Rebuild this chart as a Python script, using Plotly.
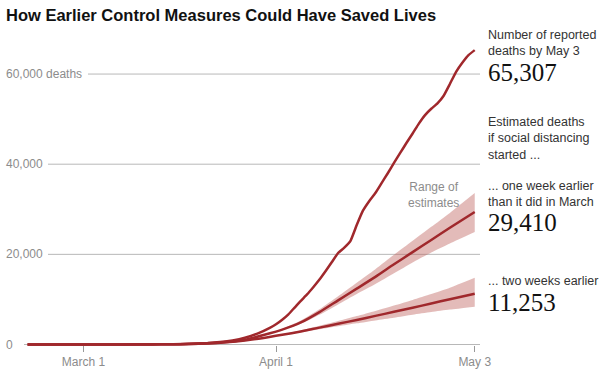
import datetime as dt
import plotly.graph_objects as go

# ---------------- data ----------------
reported_dates = ["2020-02-21", "2020-02-29", "2020-03-05", "2020-03-10", "2020-03-14",
                  "2020-03-17", "2020-03-19", "2020-03-21", "2020-03-23", "2020-03-25",
                  "2020-03-27", "2020-03-29", "2020-03-31", "2020-04-01", "2020-04-02",
                  "2020-04-03", "2020-04-04", "2020-04-05", "2020-04-06", "2020-04-07",
                  "2020-04-08", "2020-04-09", "2020-04-10", "2020-04-11", "2020-04-12",
                  "2020-04-13", "2020-04-14", "2020-04-15", "2020-04-16", "2020-04-17",
                  "2020-04-18", "2020-04-19", "2020-04-20", "2020-04-21", "2020-04-22",
                  "2020-04-23", "2020-04-24", "2020-04-25", "2020-04-26", "2020-04-27",
                  "2020-04-28", "2020-04-29", "2020-04-30", "2020-05-01", "2020-05-02",
                  "2020-05-03"]
reported_deaths = [0, 1, 12, 30, 60,
                   110, 200, 320, 550, 900,
                   1500, 2400, 3700, 4500, 5500,
                   6700, 8200, 9700, 11100, 12700,
                   14400, 16300, 18300, 20300, 21500,
                   23000, 26500, 29700, 31800, 33600,
                   35800, 38000, 40300, 42500, 44700,
                   46800, 49000, 50900, 52300, 53500,
                   55200, 57800, 60500, 62500, 64200,
                   65307]

est_dates = ["2020-02-21", "2020-03-01", "2020-03-08", "2020-03-12", "2020-03-15",
             "2020-03-18", "2020-03-21", "2020-03-24", "2020-03-27", "2020-03-30",
             "2020-04-02", "2020-04-05", "2020-04-08", "2020-04-11", "2020-04-14",
             "2020-04-17", "2020-04-20", "2020-04-23", "2020-04-26", "2020-04-29",
             "2020-05-03"]
one_week = [0, 2, 10, 25, 45, 100, 250, 550, 1050, 2100, 3300, 4900, 7200, 9800,
            12400, 15000, 17800, 20500, 23200, 25900, 29410]
two_weeks = [0, 2, 10, 22, 40, 90, 220, 480, 880, 1450, 2150, 2900, 3750, 4600,
             5450, 6350, 7250, 8150, 9100, 10050, 11253]

band_dates = ["2020-03-27", "2020-03-30", "2020-04-02", "2020-04-05", "2020-04-08",
              "2020-04-11", "2020-04-14", "2020-04-17", "2020-04-20", "2020-04-23",
              "2020-04-26", "2020-04-29", "2020-05-03"]
one_week_low = [1050, 2050, 3150, 4600, 6600, 8900, 11200, 13400, 15800, 18200, 20400, 22400, 24950]
one_week_high = [1050, 2150, 3450, 5300, 7800, 10700, 13700, 16700, 19900, 23000, 26100, 29200, 33600]
two_weeks_low = [880, 1420, 2050, 2700, 3400, 4050, 4700, 5350, 5950, 6600, 7200, 7750, 8400]
two_weeks_high = [880, 1480, 2250, 3150, 4150, 5200, 6300, 7450, 8650, 9900, 11200, 12600, 14800]

y_grid = [0, 20000, 40000, 60000]
y_labels = ["0", "20,000", "40,000", "60,000 deaths"]
x_ticks = ["2020-03-01", "2020-04-01", "2020-05-03"]
x_tick_labels = ["March 1", "April 1", "May 3"]

# ---------------- styling ----------------
W, H = 600, 374
RED = "#a0282c"
BAND = "rgba(192,105,100,0.45)"
GRAY = "#8c8c8c"
GRID = "#b8b8b8"
SANS = "Liberation Sans, Arial, sans-serif"
SERIF = "Liberation Serif, Times New Roman, serif"

# pixel geometry of the plot
px_apr1 = 276.0
px_per_day = 6.21
y0_px = 344.5
px_per_unit = 90.15 / 20000

apr1 = dt.datetime(2020, 4, 1)
x_left = apr1 + dt.timedelta(days=-px_apr1 / px_per_day)
x_right = apr1 + dt.timedelta(days=(W - px_apr1) / px_per_day)
y_top = y0_px / px_per_unit
y_bottom = (y0_px - H) / px_per_unit


def fx(px):
    return px / W


def fy(py):
    return 1 - py / H


fig = go.Figure()

for lo, hi in [(two_weeks_low, two_weeks_high), (one_week_low, one_week_high)]:
    fig.add_trace(go.Scatter(x=band_dates, y=lo, mode="lines",
                             line=dict(width=0, shape="spline", smoothing=0.6),
                             hoverinfo="skip", showlegend=False))
    fig.add_trace(go.Scatter(x=band_dates, y=hi, mode="lines", fill="tonexty",
                             fillcolor=BAND,
                             line=dict(width=0, shape="spline", smoothing=0.6),
                             hoverinfo="skip", showlegend=False))

for vals in [two_weeks, one_week]:
    fig.add_trace(go.Scatter(x=est_dates, y=vals, mode="lines",
                             line=dict(color=RED, width=2.5, shape="spline", smoothing=0.6),
                             showlegend=False))

fig.add_trace(go.Scatter(x=reported_dates, y=reported_deaths, mode="lines",
                         line=dict(color=RED, width=2.5, shape="spline", smoothing=0.4),
                         showlegend=False))

# gridlines (start after their labels)
grid_start_px = {0: 24, 20000: 48, 40000: 48, 60000: 88}
shapes = []
for v in y_grid:
    shapes.append(dict(type="line", xref="paper", yref="y",
                       x0=fx(grid_start_px[v]), x1=fx(480), y0=v, y1=v,
                       line=dict(color=GRID, width=1), layer="below"))

annotations = []
for v, lab in zip(y_grid, y_labels):
    annotations.append(dict(x=fx(4), y=v, xref="paper", yref="y", text=lab,
                            showarrow=False, xanchor="left", yanchor="middle",
                            font=dict(family=SANS, size=12, color=GRAY)))

annotations.append(dict(x=fx(4), y=fy(15), xref="paper", yref="paper",
                        text="<b>How Earlier Control Measures Could Have Saved Lives</b>",
                        showarrow=False, xanchor="left", yanchor="middle",
                        font=dict(family="Liberation Sans Narrow, Arial Narrow, " + SANS,
                                  size=16.5, color="#111")))

TX = fx(486)
small = dict(family=SANS, size=12.5, color="#333")
big = dict(family=SERIF, size=25, color="#111")
texts = [
    ("Number of reported<br>deaths by May 3", 43, small),
    ("65,307", 72, big),
    ("Estimated deaths<br>if social distancing<br>started ...", 139, small),
    ("... one week earlier<br>than it did in March", 194, small),
    ("29,410", 222, big),
    ("... two weeks earlier", 281, small),
    ("11,253", 302, big),
]
for t, py, f in texts:
    annotations.append(dict(x=TX, y=fy(py), xref="paper", yref="paper", text=t,
                            showarrow=False, xanchor="left", yanchor="middle",
                            align="left", font=f))

annotations.append(dict(x=fx(433), y=fy(195), xref="paper", yref="paper",
                        text="Range of<br>estimates", showarrow=False,
                        xanchor="center", yanchor="middle", align="center",
                        font=dict(family=SANS, size=12, color=GRAY)))

fig.update_layout(
    width=W, height=H,
    margin=dict(l=0, r=0, t=0, b=0),
    paper_bgcolor="white", plot_bgcolor="white",
    showlegend=False,
    xaxis=dict(range=[x_left, x_right], type="date", anchor="free",
               position=1 - y0_px / H, showgrid=False, zeroline=False,
               showline=False, ticks="outside", ticklen=6, tickcolor="#999",
               tickwidth=1, tickvals=x_ticks, ticktext=x_tick_labels,
               tickfont=dict(family=SANS, size=12, color=GRAY), automargin=False),
    yaxis=dict(range=[y_bottom, y_top], domain=[0, 1], showgrid=False,
               zeroline=False, showticklabels=False, ticks="", automargin=False),
    shapes=shapes,
    annotations=annotations,
)

fig.write_html("out.html", config={"displayModeBar": False},
               post_script="document.body.style.margin='0';document.body.style.overflow='hidden';")
